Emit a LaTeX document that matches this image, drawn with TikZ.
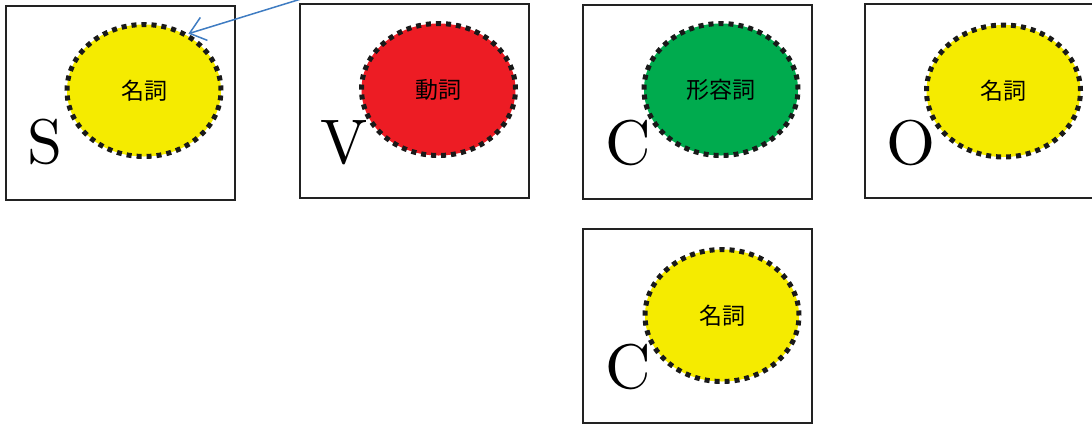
\documentclass[tikz,border=0pt]{standalone}
\usepackage{fontspec}
\newfontfamily\cjkfont{Noto Sans CJK JP}
\newfontfamily\lmten{lmroman10-regular}[Extension=.otf]
\usetikzlibrary{shapes.geometric,arrows.meta}
\definecolor{nounyellow}{HTML}{F5EB00}
\definecolor{verbred}{HTML}{ED1C24}
\definecolor{adjgreen}{HTML}{00AB4E}
\definecolor{arrowblue}{HTML}{3F7CC2}
\definecolor{boxgray}{HTML}{222222}
\tikzset{
  rolebox/.style={draw=boxgray,line width=2pt,rectangle,inner sep=0pt,minimum width=229pt,minimum height=194pt},
  posblob/.style={ellipse,inner sep=0pt,minimum width=154pt,minimum height=132pt,draw=black!90,line width=5pt,dash pattern=on 5pt off 5pt,font=\cjkfont\fontsize{23}{23}\selectfont},
  roleletter/.style={anchor=base west,inner sep=0pt,font=\lmten\fontsize{63}{63}\selectfont},
  pointer/.style={draw=arrowblue,line width=1.5pt,-{Straight Barb[length=15pt,width=24pt,line width=1.5pt]}}
}
\begin{document}
\begin{tikzpicture}[x=1pt,y=-1pt]
\useasboundingbox (0,0) rectangle (1092,424);
\clip (0,0) rectangle (1092,424);
% boxes
\node[rolebox] (bs) at (120.5,102.5) {};
\node[rolebox] (bv) at (414.5,101) {};
\node[rolebox] (bc) at (697,101.5) {};
\node[rolebox] (bo) at (979.5,101) {};
\node[rolebox] (bc2) at (697.5,326) {};
% ellipses
\node[posblob,fill=nounyellow] (es) at (144,90.5) {名詞};
\node[posblob,fill=verbred] (ev) at (438.5,89.5) {動詞};
\node[posblob,fill=adjgreen] (ec) at (721,89.5) {形容詞};
\node[posblob,fill=nounyellow] (eo) at (1003.5,91) {名詞};
\node[posblob,fill=nounyellow] (ec2) at (722,315.5) {名詞};
% letters
\node[roleletter] (ls) at (27,163) {S};
\node[roleletter] (lv) at (320,163) {V};
\node[roleletter] (lc) at (605,164) {C};
\node[roleletter] (lo) at (886,164) {O};
\node[roleletter] (lc2) at (605,388) {C};
% arrow
\coordinate (arrstart) at (314,-5);
\draw[pointer] (arrstart) -- (es.52);
\end{tikzpicture}
\end{document}
